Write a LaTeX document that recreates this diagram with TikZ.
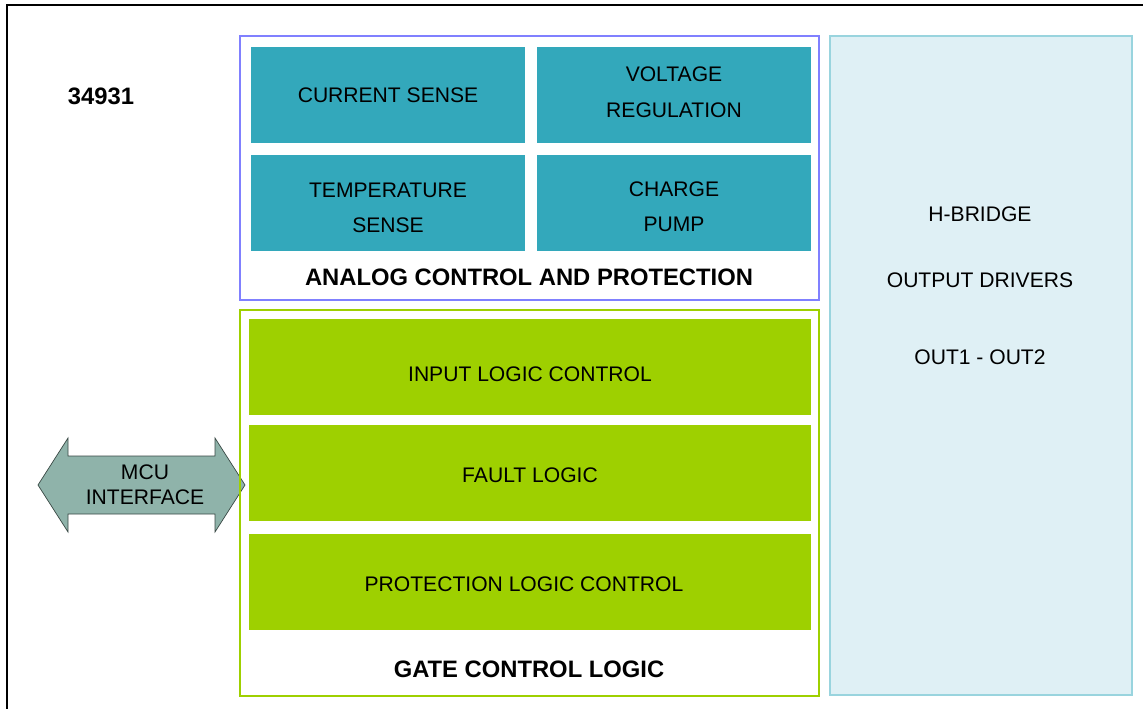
\documentclass[tikz,border=0pt]{standalone}
\usepackage{fontspec}
\setmainfont{Liberation Sans}
\definecolor{tealblk}{HTML}{33A8BB}
\definecolor{greenblk}{HTML}{9ED000}
\definecolor{analogline}{HTML}{8080FF}
\definecolor{bridgefill}{HTML}{DFF0F5}
\definecolor{bridgeline}{HTML}{99D4DE}
\definecolor{mcufill}{HTML}{8FB3AA}
\tikzset{
  txt/.style={font=\fontsize{18}{30}\selectfont, align=center},
  head/.style={font=\fontsize{20.3}{24}\selectfont\bfseries},
  tealbox/.style={txt, fill=tealblk, minimum width=274*0.03cm, minimum height=96*0.03cm, inner sep=0pt},
  greenbox/.style={txt, fill=greenblk, minimum width=562*0.03cm, minimum height=96*0.03cm, inner sep=0pt},
}
\begin{document}
\begin{tikzpicture}[x=0.03cm,y=-0.03cm]
  \useasboundingbox (0,0) rectangle (1143,709);
  \draw[line width=1.5pt] (7,720) -- (7,5) -- (1160,5);
  \node[head] (chip) at (101,96) {34931};
  % analog block
  \draw[analogline, line width=1.6pt] (240,36) rectangle (819,300);
  \draw
    (388,95) node[tealbox] (cur) {CURRENT SENSE}
    (674,95) node[tealbox, text depth=5pt] (volt) {VOLTAGE\\REGULATION}
    (388,203.5) node[tealbox, text height=50.5pt] (temp) {TEMPERATURE\\SENSE}
    (674,203.5) node[tealbox, text height=48pt] (pump) {CHARGE\\PUMP};
  \node[head] (analog) at (529,277) {ANALOG CONTROL AND PROTECTION};
  % mcu arrow
  \draw[mcufill!40!black, line width=0.6pt, fill=mcufill]
    (38,485) -- (68,438) -- (68,456) -- (215,456) -- (215,438) -- (245,485)
    -- (215,532) -- (215,514) -- (68,514) -- (68,532) -- cycle;
  \node[font=\fontsize{18}{21}\selectfont, align=center] (mcu) at (145,485) {MCU\\INTERFACE};
  % gate block
  \draw[greenblk, line width=1.6pt] (240,310) rectangle (819,696);
  \draw
    (530,367) node[greenbox, text height=25pt] (inlog) {INPUT LOGIC CONTROL}
    (530,473) node[greenbox, text height=17pt] (fault) {FAULT LOGIC}
    (530,582) node[greenbox, text height=17pt] (protlog) {PROTECTION LOGIC CONTROL\hspace{0.36cm}};
  \node[head] (gate) at (529,669) {GATE CONTROL LOGIC};
  % h-bridge
  \draw[bridgeline, fill=bridgefill, line width=1.6pt] (830,36) rectangle (1132,695);
  \draw
    (980,214) node[txt] (hb) {H-BRIDGE}
    (980,280) node[txt] (drv) {OUTPUT DRIVERS}
    (980,357) node[txt] (outs) {OUT1 - OUT2};
\end{tikzpicture}
\end{document}
